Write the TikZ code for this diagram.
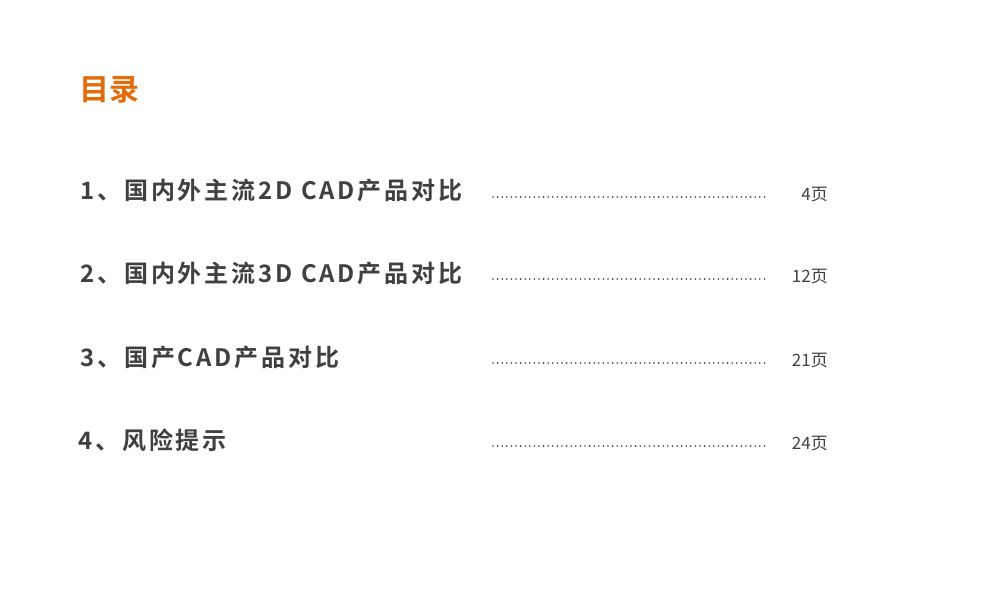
\documentclass[tikz,border=0pt]{standalone}
\usepackage{fontspec}
\newfontfamily\cjk{Noto Sans CJK SC}
\newfontfamily\cjkb[LetterSpace=12]{Noto Sans CJK SC Bold}
\newfontfamily\cjkt{Noto Sans CJK SC Bold}
\definecolor{org}{HTML}{E36C0A}
\definecolor{txt}{HTML}{404040}
\begin{document}
\begin{tikzpicture}[x=1pt,y=1pt,
  item/.style={anchor=west,inner sep=0pt,text=txt,font=\cjkb\fontsize{24}{26}\selectfont},
  pg/.style={anchor=east,inner sep=0pt,text=txt,font=\cjk\fontsize{17}{19}\selectfont},
  dots/.style={draw=txt,line width=1.8pt,line cap=round,dash pattern=on 0pt off 4.6pt}]
\useasboundingbox (0,0) rectangle (995,-591);
\node[anchor=west,inner sep=0pt,text=org,font=\cjkt\fontsize{30}{32}\selectfont] (title) at (79,-90) {目录};
\node[item] (i1) at (80,-190) {1、国内外主流2D CAD产品对比};
\node[item] (i2) at (80,-273) {2、国内外主流3D CAD产品对比};
\node[item] (i3) at (80,-357) {3、国产CAD产品对比};
\node[item] (i4) at (78,-440) {4、风险提示};
\foreach \y/\p/\n in {197/4页/1,279/12页/2,363/21页/3,446/24页/4}{
  \coordinate (a\n) at (493,-\y);
  \coordinate (b\n) at (768,-\y);
  \draw[dots] (a\n) -- (b\n);
  \node[pg] (p\n) at (828,-\y+2) {\p};
}
\end{tikzpicture}
\end{document}
